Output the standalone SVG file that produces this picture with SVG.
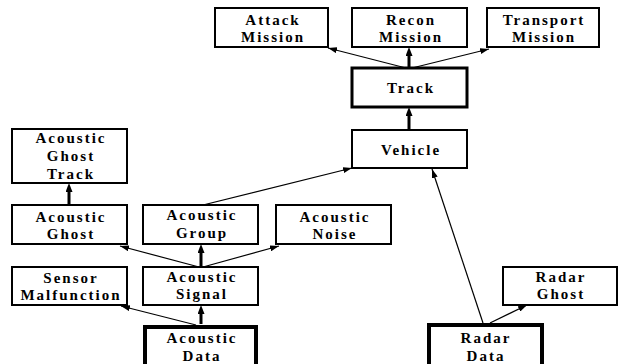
<svg xmlns="http://www.w3.org/2000/svg" width="618" height="364" viewBox="0 0 618 364">
<style>
.box{fill:#fff;stroke:#000;stroke-width:2}
.b3{stroke-width:3}
.b4{stroke-width:4}
text{font-family:"Liberation Serif","Times New Roman",serif;font-weight:bold;font-size:15px;letter-spacing:2px;text-anchor:middle;fill:#000}
.thin{stroke:#000;stroke-width:1.2;fill:none;marker-end:url(#ah)}
.thick{stroke:#000;stroke-width:3;fill:none;marker-end:url(#ahk)}
</style>
<defs>
<marker id="ah" markerUnits="userSpaceOnUse" viewBox="0 0 9 6" markerWidth="9" markerHeight="6" refX="9" refY="3" orient="auto"><path d="M0,0 L9,3 L0,6 z" fill="#000"/></marker>
<marker id="ahk" markerUnits="userSpaceOnUse" viewBox="0 0 9 7" markerWidth="9" markerHeight="7" refX="3" refY="3.5" orient="auto"><path d="M0,0 L9,3.5 L0,7 z" fill="#000"/></marker>
</defs>
<rect width="618" height="364" fill="#fff"/>
<g id="connectors">
<line class="thin" x1="406" y1="68" x2="328" y2="48"/>
<line class="thick" x1="409" y1="68" x2="409" y2="53"/>
<line class="thin" x1="412" y1="68" x2="489" y2="49"/>
<line class="thick" x1="409" y1="130" x2="409" y2="113"/>
<line class="thin" x1="203" y1="205" x2="352" y2="168"/>
<line class="thin" x1="483" y1="323" x2="432" y2="169"/>
<line class="thick" x1="69" y1="205" x2="69" y2="189"/>
<line class="thin" x1="199" y1="267" x2="120" y2="246"/>
<line class="thick" x1="201" y1="267" x2="201" y2="250"/>
<line class="thin" x1="203" y1="267" x2="279" y2="246"/>
<line class="thin" x1="196" y1="325" x2="121" y2="306"/>
<line class="thick" x1="201" y1="324" x2="201" y2="311"/>
<line class="thin" x1="490" y1="323" x2="527" y2="305"/>
</g>
<g id="attack"><rect class="box" x="215" y="8" width="113" height="39"/><text x="273" y="25">Attack</text><text x="273" y="42">Mission</text></g>
<g id="recon"><rect class="box" x="352" y="8" width="115" height="39"/><text x="411" y="25">Recon</text><text x="411" y="42">Mission</text></g>
<g id="transport"><rect class="box" x="487" y="8" width="112" height="39"/><text x="544" y="25">Transport</text><text x="544" y="42">Mission</text></g>
<g id="track"><rect class="box b3" x="352" y="68" width="115" height="39"/><text x="411" y="93">Track</text></g>
<g id="vehicle"><rect class="box" x="352" y="130" width="115" height="38"/><text x="411" y="155">Vehicle</text></g>
<g id="acoustic-ghost-track"><rect class="box" x="12" y="129" width="115" height="54"/><text x="71" y="143">Acoustic</text><text x="71" y="161">Ghost</text><text x="71" y="179">Track</text></g>
<g id="acoustic-ghost"><rect class="box" x="12" y="205" width="115" height="39"/><text x="71" y="222">Acoustic</text><text x="71" y="239">Ghost</text></g>
<g id="acoustic-group"><rect class="box" x="143" y="205" width="115" height="39"/><text x="202" y="220">Acoustic</text><text x="202" y="238">Group</text></g>
<g id="acoustic-noise"><rect class="box" x="276" y="205" width="115" height="39"/><text x="335" y="222">Acoustic</text><text x="335" y="239">Noise</text></g>
<g id="sensor-malfunction"><rect class="box" x="12" y="267" width="115" height="38"/><text x="71" y="283">Sensor</text><text x="71" y="300">Malfunction</text></g>
<g id="acoustic-signal"><rect class="box" x="143" y="267" width="115" height="38"/><text x="202" y="282">Acoustic</text><text x="202" y="299">Signal</text></g>
<g id="acoustic-data"><rect class="box b4" x="145" y="327" width="111" height="40"/><text x="202" y="343">Acoustic</text><text x="202" y="361">Data</text></g>
<g id="radar-ghost"><rect class="box" x="503" y="267" width="114" height="38"/><text x="561" y="282">Radar</text><text x="561" y="299">Ghost</text></g>
<g id="radar-data"><rect class="box b4" x="429" y="325" width="113" height="42"/><text x="486" y="343">Radar</text><text x="486" y="361">Data</text></g>
</svg>
